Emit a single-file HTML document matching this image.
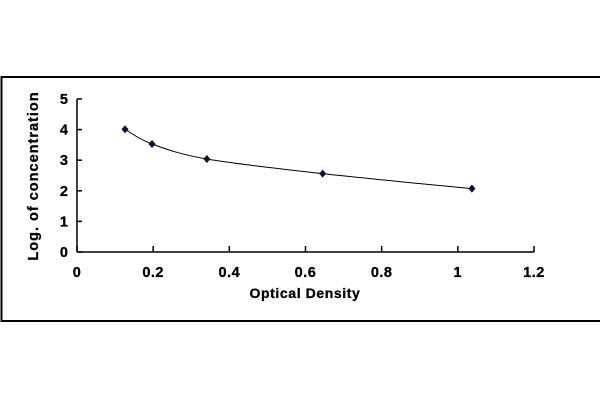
<!DOCTYPE html>
<html><head><meta charset="utf-8"><style>
html,body{margin:0;padding:0;background:#fff;}
svg{display:block;font-family:"Liberation Sans",Arial,sans-serif;}
</style></head><body>
<svg id="chart" width="600" height="400" viewBox="0 0 600 400">
<rect x="1.5" y="77" width="605" height="244" fill="none" stroke="#000" stroke-width="2"/>
<g id="axes"></g>
<path id="curve" fill="none" stroke="#000" stroke-width="1"/>
<g id="points"></g>
<text x="305" y="298" text-anchor="middle" font-size="14" font-weight="bold" letter-spacing="0.6" stroke="#000" stroke-width="0.3">Optical Density</text>
<text transform="translate(38,176) rotate(-90)" text-anchor="middle" font-size="14.5" font-weight="bold" letter-spacing="1" stroke="#000" stroke-width="0.3">Log. of concentration</text>
</svg>
<script>
const xValues=[0.126,0.197,0.341,0.645,1.037];
const yValues=[4.01,3.53,3.04,2.56,2.07];
const xTicks=[0,0.2,0.4,0.6,0.8,1,1.2];
const xTickLabels=["0","0.2","0.4","0.6","0.8","1","1.2"];
const yTicks=[0,1,2,3,4,5];
const yTickLabels=["0","1","2","3","4","5"];
const NS="http://www.w3.org/2000/svg";
const X0=77,X1=534,Y0=252,Y1=99;
const sx=v=>X0+(v-0)/(1.2-0)*(X1-X0);
const sy=v=>Y0-(v-0)/(5-0)*(Y0-Y1);
function mk(t,a,p){const e=document.createElementNS(NS,t);for(const k in a)e.setAttribute(k,a[k]);p.appendChild(e);return e;}
const axes=document.getElementById('axes');
let e=mk('line',{x1:X0,y1:Y1,x2:X0,y2:Y0,stroke:'#000','stroke-width':1.5},axes);


e=mk('line',{x1:X0,y1:Y0,x2:X1,y2:Y0,stroke:'#000','stroke-width':1.5},axes);


xTicks.forEach((v,i)=>{
 const t=mk('line',{x1:sx(v),y1:Y0,x2:sx(v),y2:Y0-6,stroke:'#000','stroke-width':1.5},axes);
 
 
 const l=mk('text',{x:sx(v),y:Y0+25,'text-anchor':'middle','font-size':14.5,'font-weight':'bold','letter-spacing':0.5,stroke:'#000','stroke-width':0.3},axes);
 l.textContent=xTickLabels[i];
 
 
});
yTicks.forEach((v,i)=>{
 const t=mk('line',{x1:X0,y1:sy(v),x2:X0+5,y2:sy(v),stroke:'#000','stroke-width':1.5},axes);
 
 
 const l=mk('text',{x:X0-9,y:sy(v)+5,'text-anchor':'end','font-size':14.5,'font-weight':'bold',stroke:'#000','stroke-width':0.3},axes);
 l.textContent=yTickLabels[i];
 
 
});
const P=xValues.map((v,i)=>[sx(v),sy(yValues[i])]);
let d='M'+P[0][0]+','+P[0][1];
for(let i=0;i<P.length-1;i++){
 const p0=P[i-1]||P[i],p1=P[i],p2=P[i+1],p3=P[i+2]||P[i+1];
 const c1=[p1[0]+(p2[0]-p0[0])/6,p1[1]+(p2[1]-p0[1])/6];
 const c2=[p2[0]-(p3[0]-p1[0])/6,p2[1]-(p3[1]-p1[1])/6];
 d+=' C'+c1+' '+c2+' '+p2;
}
document.getElementById('curve').setAttribute('d',d);
const pts=document.getElementById('points');
P.forEach(p=>{
 const m=mk('path',{d:`M${p[0]},${p[1]-4} L${p[0]+3.5},${p[1]} L${p[0]},${p[1]+4} L${p[0]-3.5},${p[1]} Z`,fill:'#0a0a3a'},pts);
 
 
});
</script>
</body></html>
